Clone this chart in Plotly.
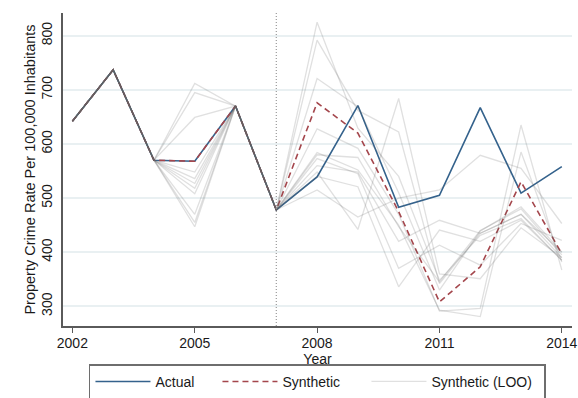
import plotly.graph_objects as go

years = list(range(2002, 2015))

# Observed property crime rate (per 100,000 inhabitants)
actual = [642, 737, 570, 568, 670, 478, 539, 671, 483, 505, 667, 509, 558]

# Synthetic control estimate
synthetic = [642, 737, 570, 568, 670, 478, 676, 620, 475, 308, 373, 530, 397]

# Leave-one-out synthetic controls
pre_common = [642, 737, 570]
loo_2005 = [712, 695, 649, 548, 536, 527, 518, 508, 470, 455, 447]
loo_post = [
    [825, 629, 540, 348, 431, 462, 385],
    [792, 662, 622, 342, 435, 470, 390],
    [721, 669, 510, 330, 439, 484, 400],
    [628, 592, 470, 291, 296, 635, 367],
    [584, 552, 450, 293, 281, 585, 382],
    [573, 545, 370, 413, 376, 453, 422],
    [548, 442, 684, 360, 351, 445, 390],
    [540, 521, 336, 441, 420, 459, 385],
    [515, 465, 500, 515, 579, 555, 453],
    [560, 548, 420, 459, 435, 470, 400],
    [580, 575, 447, 345, 440, 480, 395],
]

intervention_year = 2007

BLUE = "#34628c"
RED = "#a4464c"
GREY = "rgba(100,100,100,0.2)"
FONT = "Liberation Sans, Arial, sans-serif"

fig = go.Figure()

fig.add_trace(go.Scatter(
    x=years, y=actual, mode="lines", name="Actual",
    line=dict(color=BLUE, width=1.6), legendwidth=57,
))
fig.add_trace(go.Scatter(
    x=years, y=synthetic, mode="lines", name="Synthetic",
    line=dict(color=RED, width=1.6, dash="6px,4px"), legendwidth=79,
))

for i, (v05, post) in enumerate(zip(loo_2005, loo_post)):
    series = pre_common + [v05, 670, 478] + post
    fig.add_trace(go.Scatter(
        x=years, y=series, mode="lines", name="Synthetic (LOO)",
        line=dict(color=GREY, width=1.3),
        legendgroup="loo", showlegend=(i == 0), legendwidth=108,
    ))

fig.add_vline(x=intervention_year, line=dict(color="#999999", width=1.2, dash="1px,2px"))

fig.update_layout(
    width=578, height=398,
    margin=dict(l=63, r=6, t=13, b=72, autoexpand=False),
    paper_bgcolor="white", plot_bgcolor="white",
    font=dict(family=FONT, size=14, color="#1a1a1a"),
    showlegend=True,
    legend=dict(
        orientation="h", x=0.051, xanchor="left", y=-0.1225, yanchor="top",
        bordercolor="#6e6e6e", borderwidth=1.5,
        itemwidth=55, font=dict(size=14),
        traceorder="normal",
    ),
)

fig.update_xaxes(
    range=[2001.77, 2014.25],
    tickvals=[2002, 2005, 2008, 2011, 2014],
    showgrid=False, zeroline=False,
    showline=True, linecolor="#5a5a5a", linewidth=1.5,
    ticks="outside", ticklen=5, tickcolor="#5a5a5a", tickwidth=1.2,
    ticklabelstandoff=-2,
    title=dict(text="Year", font=dict(size=14), standoff=0),
)
fig.update_yaxes(
    range=[263.6, 842],
    tickvals=[300, 400, 500, 600, 700, 800],
    tickangle=-90,
    showgrid=True, gridcolor="#e9f0f2", gridwidth=1.5,
    zeroline=False,
    showline=True, linecolor="#5a5a5a", linewidth=1.5,
    ticks="", ticklabelstandoff=4,
    title=dict(text="Property Crime Rate Per 100,000 Inhabitants",
               font=dict(size=14.5), standoff=0),
)

fig.write_html("out.html")
